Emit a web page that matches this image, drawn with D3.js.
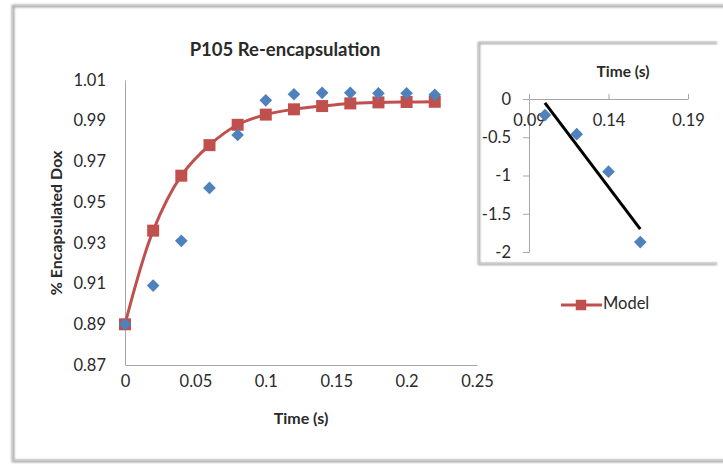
<!DOCTYPE html>
<html>
<head>
<meta charset="UTF-8">
<title>P105 Re-encapsulation</title>
<script src="https://cdn.jsdelivr.net/npm/d3@7/dist/d3.min.js"></script>
<style>
  body { margin: 0; background: #fff; }
  text { font-family: Lato, "Open Sans", sans-serif; fill: #2a2a2a; }
  .axis path, .axis line { stroke: #a6a6a6; }
  .axis text { font-size: 16.5px; fill: #2a2a2a; font-family: Lato, "Open Sans", sans-serif; }
</style>
</head>
<body>
<div id="chart"></div>
<script>
// main chart data
var times = [0, 0.02, 0.04, 0.06, 0.08, 0.10, 0.12, 0.14, 0.16, 0.18, 0.20, 0.22];
var measured = [0.890, 0.909, 0.931, 0.957, 0.983, 1.000, 1.003, 1.0037, 1.0037, 1.0035, 1.0035, 1.0027];
var model = [0.890, 0.936, 0.963, 0.978, 0.988, 0.993, 0.9956, 0.9972, 0.9985, 0.999, 0.9992, 0.9993];
var xTicks = [0, 0.05, 0.1, 0.15, 0.2, 0.25];
var yTicks = [0.87, 0.89, 0.91, 0.93, 0.95, 0.97, 0.99, 1.01];

// inset data
var insetTimes = [0.10, 0.12, 0.14, 0.16];
var insetValues = [-0.21, -0.46, -0.95, -1.87];
var trendTimes = [0.10, 0.16];
var trendValues = [-0.05, -1.70];
var insetXTicks = [0.09, 0.14, 0.19];
var insetYTicks = [0, -0.5, -1, -1.5, -2];

var W = 723, H = 464;
var svg = d3.select('#chart').append('svg')
    .attr('width', W)
    .attr('height', H);

svg.append('rect').attr('width', W).attr('height', H).attr('fill', '#fff');

// outer frame with soft shadow
var defs = svg.append('defs');
var blur = defs.append('filter').attr('id', 'soft');
blur.append('feGaussianBlur').attr('stdDeviation', 1.2);

svg.append('path')
    .attr('d', 'M728,6 H13 V461 H728')
    .attr('fill', 'none')
    .attr('stroke', '#9a9a9a')
    .attr('stroke-width', 2.5)
    .attr('filter', 'url(#soft)');
svg.append('path')
    .attr('d', 'M728,5 H12 V460 H728')
    .attr('fill', 'none')
    .attr('stroke', '#d4d4d4')
    .attr('stroke-width', 1);

// main chart
var x = d3.scaleLinear().domain([0, 0.25]).range([125, 477]);
var y = d3.scaleLinear().domain([0.87, 1.01]).range([365, 80]);

svg.append('g')
    .attr('class', 'axis')
    .attr('transform', 'translate(0,' + y(0.87) + ')')
    .call(d3.axisBottom(x).tickValues(xTicks).tickSize(0).tickPadding(10)
        .tickFormat(function(d){ return String(d); }));

svg.append('g')
    .attr('class', 'axis')
    .attr('transform', 'translate(' + x(0) + ',0)')
    .call(d3.axisLeft(y).tickValues(yTicks).tickSize(0).tickPadding(19)
        .tickFormat(d3.format('.2f')));

svg.append('text')
    .attr('x', 285).attr('y', 51)
    .attr('text-anchor', 'middle').attr('dominant-baseline', 'middle')
    .attr('font-size', 18.5).attr('font-weight', 'bold')
    .text('P105 Re-encapsulation');

svg.append('text')
    .attr('x', 301).attr('y', 420)
    .attr('text-anchor', 'middle').attr('dominant-baseline', 'middle')
    .attr('font-size', 16).attr('font-weight', 'bold')
    .text('Time (s)');

svg.append('text')
    .attr('transform', 'translate(58,223) rotate(-90)')
    .attr('text-anchor', 'middle').attr('dominant-baseline', 'middle')
    .attr('font-size', 16).attr('font-weight', 'bold')
    .text('% Encapsulated  Dox');

var diamond = d3.symbol().type(d3.symbolSquare).size(80);
var square = d3.symbol().type(d3.symbolSquare).size(144);

svg.append('path')
    .datum(times.map(function(t, i){ return [t, model[i]]; }))
    .attr('fill', 'none')
    .attr('stroke', '#c0504d')
    .attr('stroke-width', 3)
    .attr('d', d3.line()
        .x(function(d){ return x(d[0]); })
        .y(function(d){ return y(d[1]); })
        .curve(d3.curveCatmullRom.alpha(0.5)));

svg.append('g').selectAll('path')
    .data(times)
    .enter()
    .append('path')
    .attr('d', square)
    .attr('fill', '#c0504d')
    .attr('transform', function(d, i){ return 'translate(' + x(d) + ',' + y(model[i]) + ')'; });

svg.append('g').selectAll('path')
    .data(times)
    .enter()
    .append('path')
    .attr('d', diamond)
    .attr('fill', '#4f81bd')
    .attr('transform', function(d, i){ return 'translate(' + x(d) + ',' + y(measured[i]) + ') rotate(45)'; });

// inset box
svg.append('path')
    .attr('d', 'M717,43 H479 V264 H717')
    .attr('fill', 'none')
    .attr('stroke', '#9a9a9a')
    .attr('stroke-width', 2)
    .attr('filter', 'url(#soft)');
svg.append('path')
    .attr('d', 'M717,42 H478 V263 H717')
    .attr('fill', 'none')
    .attr('stroke', '#cfcfcf')
    .attr('stroke-width', 1);

var xi = d3.scaleLinear().domain([0.09, 0.19]).range([529, 688]);
var yi = d3.scaleLinear().domain([-2, 0]).range([252, 99]);

svg.append('g')
    .attr('class', 'axis')
    .attr('transform', 'translate(' + xi(0.09) + ',0)')
    .call(d3.axisLeft(yi).tickValues(insetYTicks).tickSizeInner(6).tickSizeOuter(0).tickPadding(12)
        .tickFormat(function(d){ return String(d).replace('−', '-'); }));

svg.append('g')
    .attr('class', 'axis')
    .attr('transform', 'translate(0,' + yi(0) + ')')
    .call(d3.axisBottom(xi).tickValues(insetXTicks).tickSizeInner(-5).tickSizeOuter(0).tickPadding(15)
        .tickFormat(d3.format('.2f')));

svg.append('text')
    .attr('x', 623).attr('y', 73)
    .attr('text-anchor', 'middle').attr('dominant-baseline', 'middle')
    .attr('font-size', 15.5).attr('font-weight', 'bold')
    .text('Time (s)');

svg.append('g').selectAll('path')
    .data(insetTimes)
    .enter()
    .append('path')
    .attr('d', diamond)
    .attr('fill', '#4f81bd')
    .attr('transform', function(d, i){ return 'translate(' + xi(d) + ',' + yi(insetValues[i]) + ') rotate(45)'; });

svg.append('line')
    .attr('x1', xi(trendTimes[0])).attr('y1', yi(trendValues[0]))
    .attr('x2', xi(trendTimes[1])).attr('y2', yi(trendValues[1]))
    .attr('stroke', '#000')
    .attr('stroke-width', 3);

// legend
var lg = svg.append('g').attr('transform', 'translate(561,305)');
lg.append('line').attr('x1', 0).attr('x2', 41).attr('stroke', '#c0504d').attr('stroke-width', 3);
lg.append('path').attr('d', d3.symbol().type(d3.symbolSquare).size(110)).attr('fill', '#c0504d')
    .attr('transform', 'translate(20,0)');
lg.append('text').attr('x', 42).attr('dominant-baseline', 'middle')
    .attr('font-size', 16.5).attr('fill', '#333').text('Model');
</script>
</body>
</html>
